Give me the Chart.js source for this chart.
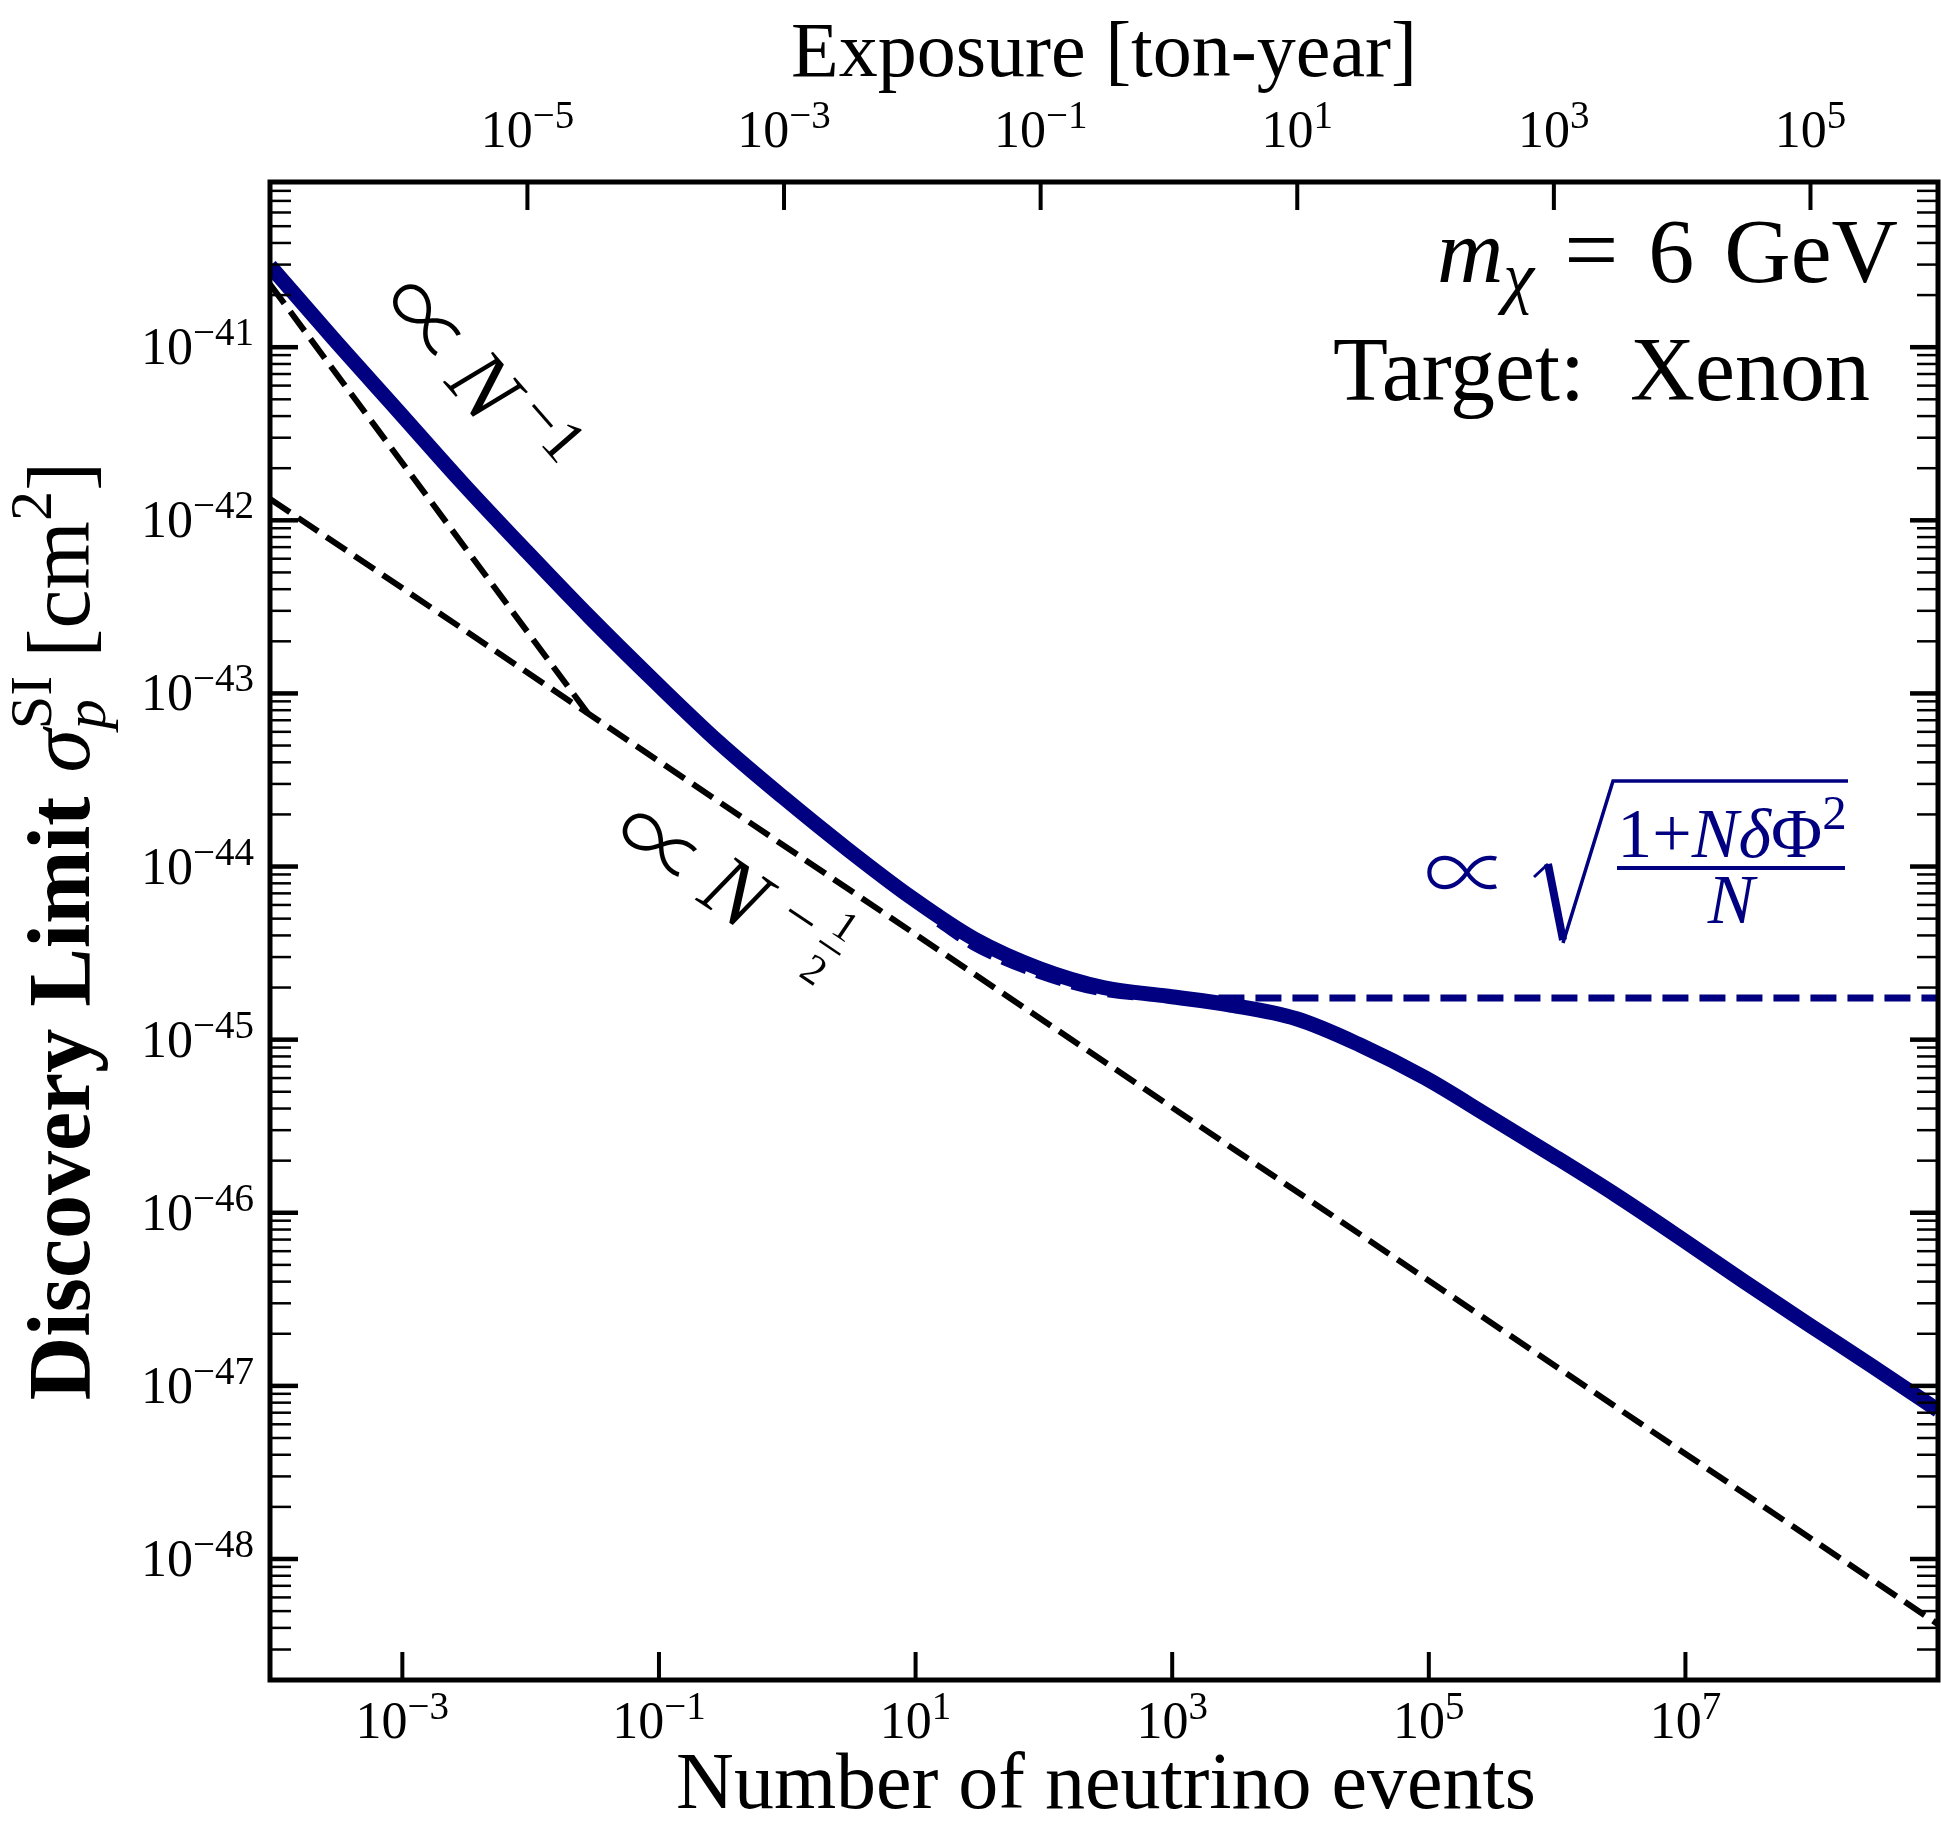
<!DOCTYPE html>
<html>
<head>
<meta charset="utf-8">
<script src="https://cdn.jsdelivr.net/npm/chart.js@4.4.1/dist/chart.umd.min.js"></script>
<style>
  html, body { margin: 0; padding: 0; background: #fff; }
</style>
</head>
<body>
<canvas id="limitChart" width="1941" height="1823"></canvas>
<script>
// number of neutrino events (bottom axis) and the discovery limit in cm^2
const events = [9.3e-5, 2.9e-4, 9.3e-4, 2.9e-3, 9.3e-3, 0.029, 0.093, 0.29, 0.93, 2.9, 9.3, 29, 93, 290,
  930, 2900, 9300, 2.9e4, 9.3e4, 2.9e5, 9.3e5, 2.9e6, 9.3e6, 2.9e7, 9.3e7, 2.9e8, 9.3e8];
const discoveryLimit = [2.95e-41, 1.12e-41, 4.27e-42, 1.66e-42, 6.61e-43, 2.75e-43, 1.17e-43, 5.25e-44,
  2.51e-44, 1.27e-44, 6.61e-45, 3.80e-45, 2.57e-45, 2.00e-45, 1.78e-45, 1.58e-45, 1.32e-45, 9.33e-46,
  6.03e-46, 3.63e-46, 2.14e-46, 1.26e-46, 7.08e-47, 3.98e-47, 2.24e-47, 1.29e-47, 7.24e-48];

// dashed guide lines
const inverseEvents = [9.3e-5, 0.031];
const inverseLimit = [2.31e-41, 6.9e-44];
const sqrtEvents = [9.3e-5, 9.3e8];
const sqrtLimit = [1.33e-42, 4.2e-49];
const floorEvents = [15, 29, 93, 290, 930, 9.3e8];
const floorLimit = [4.68e-45, 3.39e-45, 2.34e-45, 1.86e-45, 1.74e-45, 1.74e-45];

// axes
const eventTicks = [1e-3, 1e-1, 1e1, 1e3, 1e5, 1e7];
const exposureTicks = [1e-5, 1e-3, 1e-1, 1e1, 1e3, 1e5];
const limitTicks = [1e-48, 1e-47, 1e-46, 1e-45, 1e-44, 1e-43, 1e-42, 1e-41];
const tonYearPerEvent = 1.06e-3;
const X_MIN = 9.3e-5, X_MAX = 9.3e8;
const Y_MIN = 2e-49, Y_MAX = 9e-41;

const NAVY = '#000080';
const SERIF = '"Liberation Serif", "DejaVu Serif", serif';
const font = (size, style) => (style ? style + ' ' : '') + size + 'px ' + SERIF;
const PROPTO = size => '300 ' + size + 'px "Noto Sans CJK JP", "DejaVu Serif"';

function pairs(xs, ys) {
  return xs.map((x, i) => ({ x: x, y: ys[i] }));
}

function powerLabel(v) {
  const e = Math.round(Math.log10(v));
  return [
    { text: '10', font: font(52) },
    { text: String(e).replace('-', '\u2212'), font: font(39), dy: -19 }
  ];
}

// draws a row of text runs (for super/subscripts)
function drawRuns(ctx, runs, x, y, align, angle) {
  let total = 0;
  runs.forEach(r => {
    ctx.font = r.font;
    r.w = ctx.measureText(r.text).width;
  });
  runs.forEach((r, i) => {
    if (r.overlap) total -= runs[i - 1].w;
    total += (r.gap || 0) + r.w;
  });
  ctx.save();
  ctx.translate(x, y);
  if (angle) ctx.rotate(angle);
  ctx.textAlign = 'left';
  ctx.textBaseline = 'alphabetic';
  let cx = align === 'center' ? -total / 2 : align === 'right' ? -total : 0;
  runs.forEach((r, i) => {
    if (r.overlap) cx -= runs[i - 1].w;
    cx += r.gap || 0;
    ctx.font = r.font;
    ctx.fillText(r.text, cx, r.dy || 0);
    cx += r.w;
  });
  ctx.restore();
}

// puts the ink box centre of a glyph run at (x, y)
function fillCentered(ctx, text, f, x, y) {
  ctx.font = f;
  ctx.textAlign = 'left';
  ctx.textBaseline = 'alphabetic';
  const m = ctx.measureText(text);
  const cx = (m.actualBoundingBoxRight - m.actualBoundingBoxLeft) / 2;
  const cy = (m.actualBoundingBoxDescent - m.actualBoundingBoxAscent) / 2;
  ctx.fillText(text, x - cx, y - cy);
}

// glyphs placed along a rotated baseline: [text, font, along, up]
function drawAlong(ctx, items, x, y, angle) {
  ctx.save();
  ctx.translate(x, y);
  ctx.rotate(angle);
  items.forEach(it => fillCentered(ctx, it[0], it[1], it[2], -it[3]));
  ctx.restore();
}

const framePlugin = {
  id: 'frame',
  afterDraw(chart) {
    const ctx = chart.ctx;
    const a = chart.chartArea;
    const xs = chart.scales.x, xt = chart.scales.xTop, ys = chart.scales.y;
    ctx.save();
    ctx.strokeStyle = '#000';
    ctx.fillStyle = '#000';
    ctx.lineCap = 'butt';
    const tick = (x1, y1, x2, y2, w) => {
      ctx.lineWidth = w;
      ctx.beginPath();
      ctx.moveTo(x1, y1);
      ctx.lineTo(x2, y2);
      ctx.stroke();
    };

    eventTicks.forEach(v => {
      const px = xs.getPixelForValue(v);
      tick(px, a.bottom, px, a.bottom - 28, 4);
      drawRuns(ctx, powerLabel(v), px, 1738, 'center');
    });
    exposureTicks.forEach(v => {
      const px = xt.getPixelForValue(v);
      tick(px, a.top, px, a.top + 28, 4);
      drawRuns(ctx, powerLabel(v), px, 147, 'center');
    });
    for (let e = -49; e <= -40; e++) {
      for (let m = 1; m <= 9; m++) {
        const v = m * Math.pow(10, e);
        if (v < Y_MIN * 0.999 || v > Y_MAX * 1.001) continue;
        const py = ys.getPixelForValue(v);
        const len = m === 1 ? 28 : 21;
        const w = m === 1 ? 4.5 : 2.5;
        tick(a.left, py, a.left + len, py, w);
        tick(a.right, py, a.right - len, py, w);
      }
    }
    limitTicks.forEach(v => {
      drawRuns(ctx, powerLabel(v), 254, ys.getPixelForValue(v) + 17, 'right');
    });

    ctx.lineWidth = 5;
    ctx.strokeRect(a.left, a.top, a.right - a.left, a.bottom - a.top);

    // axis titles
    drawRuns(ctx, [{ text: 'Number of neutrino events', font: font(80) }], 1106, 1808, 'center');
    drawRuns(ctx, [{ text: 'Exposure [ton-year]', font: font(78) }], 1104, 76, 'center');
    drawRuns(ctx, [
      { text: 'Discovery Limit', font: font(88, 'bold') },
      { text: '\u03c3', font: font(88, 'italic'), gap: 24 },
      { text: 'p', font: font(60, 'italic'), dy: 16 },
      { text: 'SI', font: font(60), dy: -38, overlap: true },
      { text: '[cm', font: font(88), gap: 18 },
      { text: '2', font: font(60), dy: -38 },
      { text: ']', font: font(88) }
    ], 89, 931, 'center', -Math.PI / 2);

    // annotations
    drawRuns(ctx, [
      { text: 'm', font: font(92, 'italic') },
      { text: '\u03c7', font: font(70, 'italic'), dy: 18 },
      { text: '=', font: font(96), gap: 30 },
      { text: '6', font: font(92), gap: 30 },
      { text: 'GeV', font: font(92), gap: 30 }
    ], 1898, 282, 'right');
    drawRuns(ctx, [{ text: 'Target:  Xenon', font: font(90) }], 1870, 400, 'right');

    drawAlong(ctx, [
      ['\u221d', PROPTO(92), 0, 0],
      ['N', font(88, 'italic'), 93, 0],
      ['\u22121', font(62), 168, 24]
    ], 424, 317, 49 * Math.PI / 180);

    const t2 = 34 * Math.PI / 180;
    drawAlong(ctx, [
      ['\u221d', PROPTO(92), 0, 0],
      ['N', font(88, 'italic'), 95, 2],
      ['\u2212', font(60), 161, 18],
      ['1', font(42), 204, 36],
      ['2', font(42), 201, -18]
    ], 657, 842, t2);
    ctx.save();
    ctx.translate(657, 842);
    ctx.rotate(t2);
    ctx.lineWidth = 2.5;
    ctx.beginPath();
    ctx.moveTo(190, -9);
    ctx.lineTo(215, -9);
    ctx.stroke();
    ctx.restore();

    // navy formula
    ctx.fillStyle = NAVY;
    ctx.strokeStyle = NAVY;
    fillCentered(ctx, '\u221d', PROPTO(86), 1462, 872);
    ctx.lineJoin = 'miter';
    ctx.lineWidth = 3;
    ctx.beginPath();
    ctx.moveTo(1534, 877);
    ctx.lineTo(1548, 864);
    ctx.stroke();
    ctx.lineWidth = 8;
    ctx.beginPath();
    ctx.moveTo(1548, 864);
    ctx.lineTo(1563, 940);
    ctx.stroke();
    ctx.lineWidth = 3.5;
    ctx.beginPath();
    ctx.moveTo(1563, 943);
    ctx.lineTo(1613, 781);
    ctx.lineTo(1848, 781);
    ctx.stroke();
    drawRuns(ctx, [
      { text: '1+', font: font(70) },
      { text: 'N', font: font(70, 'italic') },
      { text: '\u03b4', font: font(70, 'italic') },
      { text: '\u03a6', font: font(70) },
      { text: '2', font: font(49), dy: -28 }
    ], 1732, 857, 'center');
    ctx.lineWidth = 4;
    ctx.beginPath();
    ctx.moveTo(1617, 868);
    ctx.lineTo(1845, 868);
    ctx.stroke();
    drawRuns(ctx, [{ text: 'N', font: font(70, 'italic') }], 1731, 923, 'center');

    ctx.restore();
  }
};

new Chart(document.getElementById('limitChart').getContext('2d'), {
  type: 'line',
  data: {
    datasets: [
      {
        label: 'Discovery limit',
        data: pairs(events, discoveryLimit),
        borderColor: NAVY,
        borderWidth: 15,
        borderJoinStyle: 'round',
        pointRadius: 0,
        cubicInterpolationMode: 'monotone',
        clip: 0,
        order: 0
      },
      {
        label: 'N^-1',
        data: pairs(inverseEvents, inverseLimit),
        borderColor: '#000',
        borderWidth: 6,
        borderDash: [24, 10],
        pointRadius: 0,
        clip: 0,
        order: 2
      },
      {
        label: 'N^-1/2',
        data: pairs(sqrtEvents, sqrtLimit),
        borderColor: '#000',
        borderWidth: 6,
        borderDash: [24, 10],
        pointRadius: 0,
        clip: 0,
        order: 2
      },
      {
        label: 'Systematic floor',
        data: pairs(floorEvents, floorLimit),
        borderColor: NAVY,
        borderWidth: 7,
        borderDash: [26, 11],
        pointRadius: 0,
        cubicInterpolationMode: 'monotone',
        clip: 0,
        order: 1
      }
    ]
  },
  options: {
    responsive: false,
    devicePixelRatio: 1,
    animation: false,
    events: [],
    layout: { autoPadding: false, padding: { left: 0, right: 3, top: 0, bottom: 0 } },
    plugins: { legend: { display: false }, tooltip: { enabled: false } },
    scales: {
      x: {
        type: 'logarithmic',
        position: 'bottom',
        min: X_MIN,
        max: X_MAX,
        ticks: { display: false },
        grid: { display: false },
        border: { display: false },
        afterFit: s => { s.height = 143; }
      },
      xTop: {
        type: 'logarithmic',
        position: 'top',
        min: X_MIN * tonYearPerEvent,
        max: X_MAX * tonYearPerEvent,
        ticks: { display: false },
        grid: { display: false },
        border: { display: false },
        afterFit: s => { s.height = 182; }
      },
      y: {
        type: 'logarithmic',
        min: Y_MIN,
        max: Y_MAX,
        ticks: { display: false },
        grid: { display: false },
        border: { display: false },
        afterFit: s => { s.width = 270; }
      }
    }
  },
  plugins: [framePlugin]
});
</script>
</body>
</html>
